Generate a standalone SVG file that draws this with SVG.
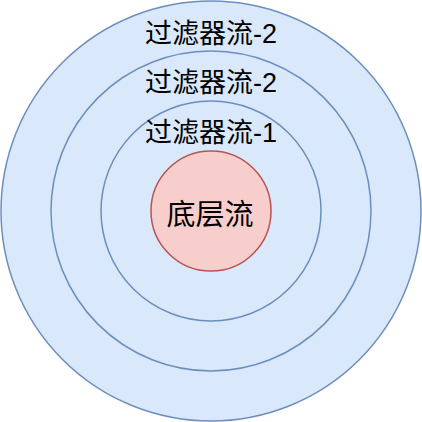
<svg xmlns="http://www.w3.org/2000/svg" width="422" height="422" viewBox="0 0 422 422">
<style>
.blue{fill:#dae8fc;stroke:#6c8ebf;stroke-width:1.5}
.red{fill:#f8cecc;stroke:#b85450;stroke-width:1.5}
text{font-family:"Liberation Sans","Noto Sans CJK SC",sans-serif;font-size:27px;fill:#000;text-anchor:middle}
</style>
<rect width="422" height="422" fill="#fff"/>
<g id="outer"><circle class="blue" cx="211" cy="211" r="210"/><text x="211" y="43">过滤器流-2</text></g>
<g id="middle"><circle class="blue" cx="211" cy="211" r="160"/><text x="211" y="92">过滤器流-2</text></g>
<g id="inner"><circle class="blue" cx="211" cy="211" r="110"/><text x="211" y="142">过滤器流-1</text></g>
<g id="core"><circle class="red" cx="211" cy="211" r="60"/><text x="210" y="225" style="font-size:29px">底层流</text></g>
</svg>
